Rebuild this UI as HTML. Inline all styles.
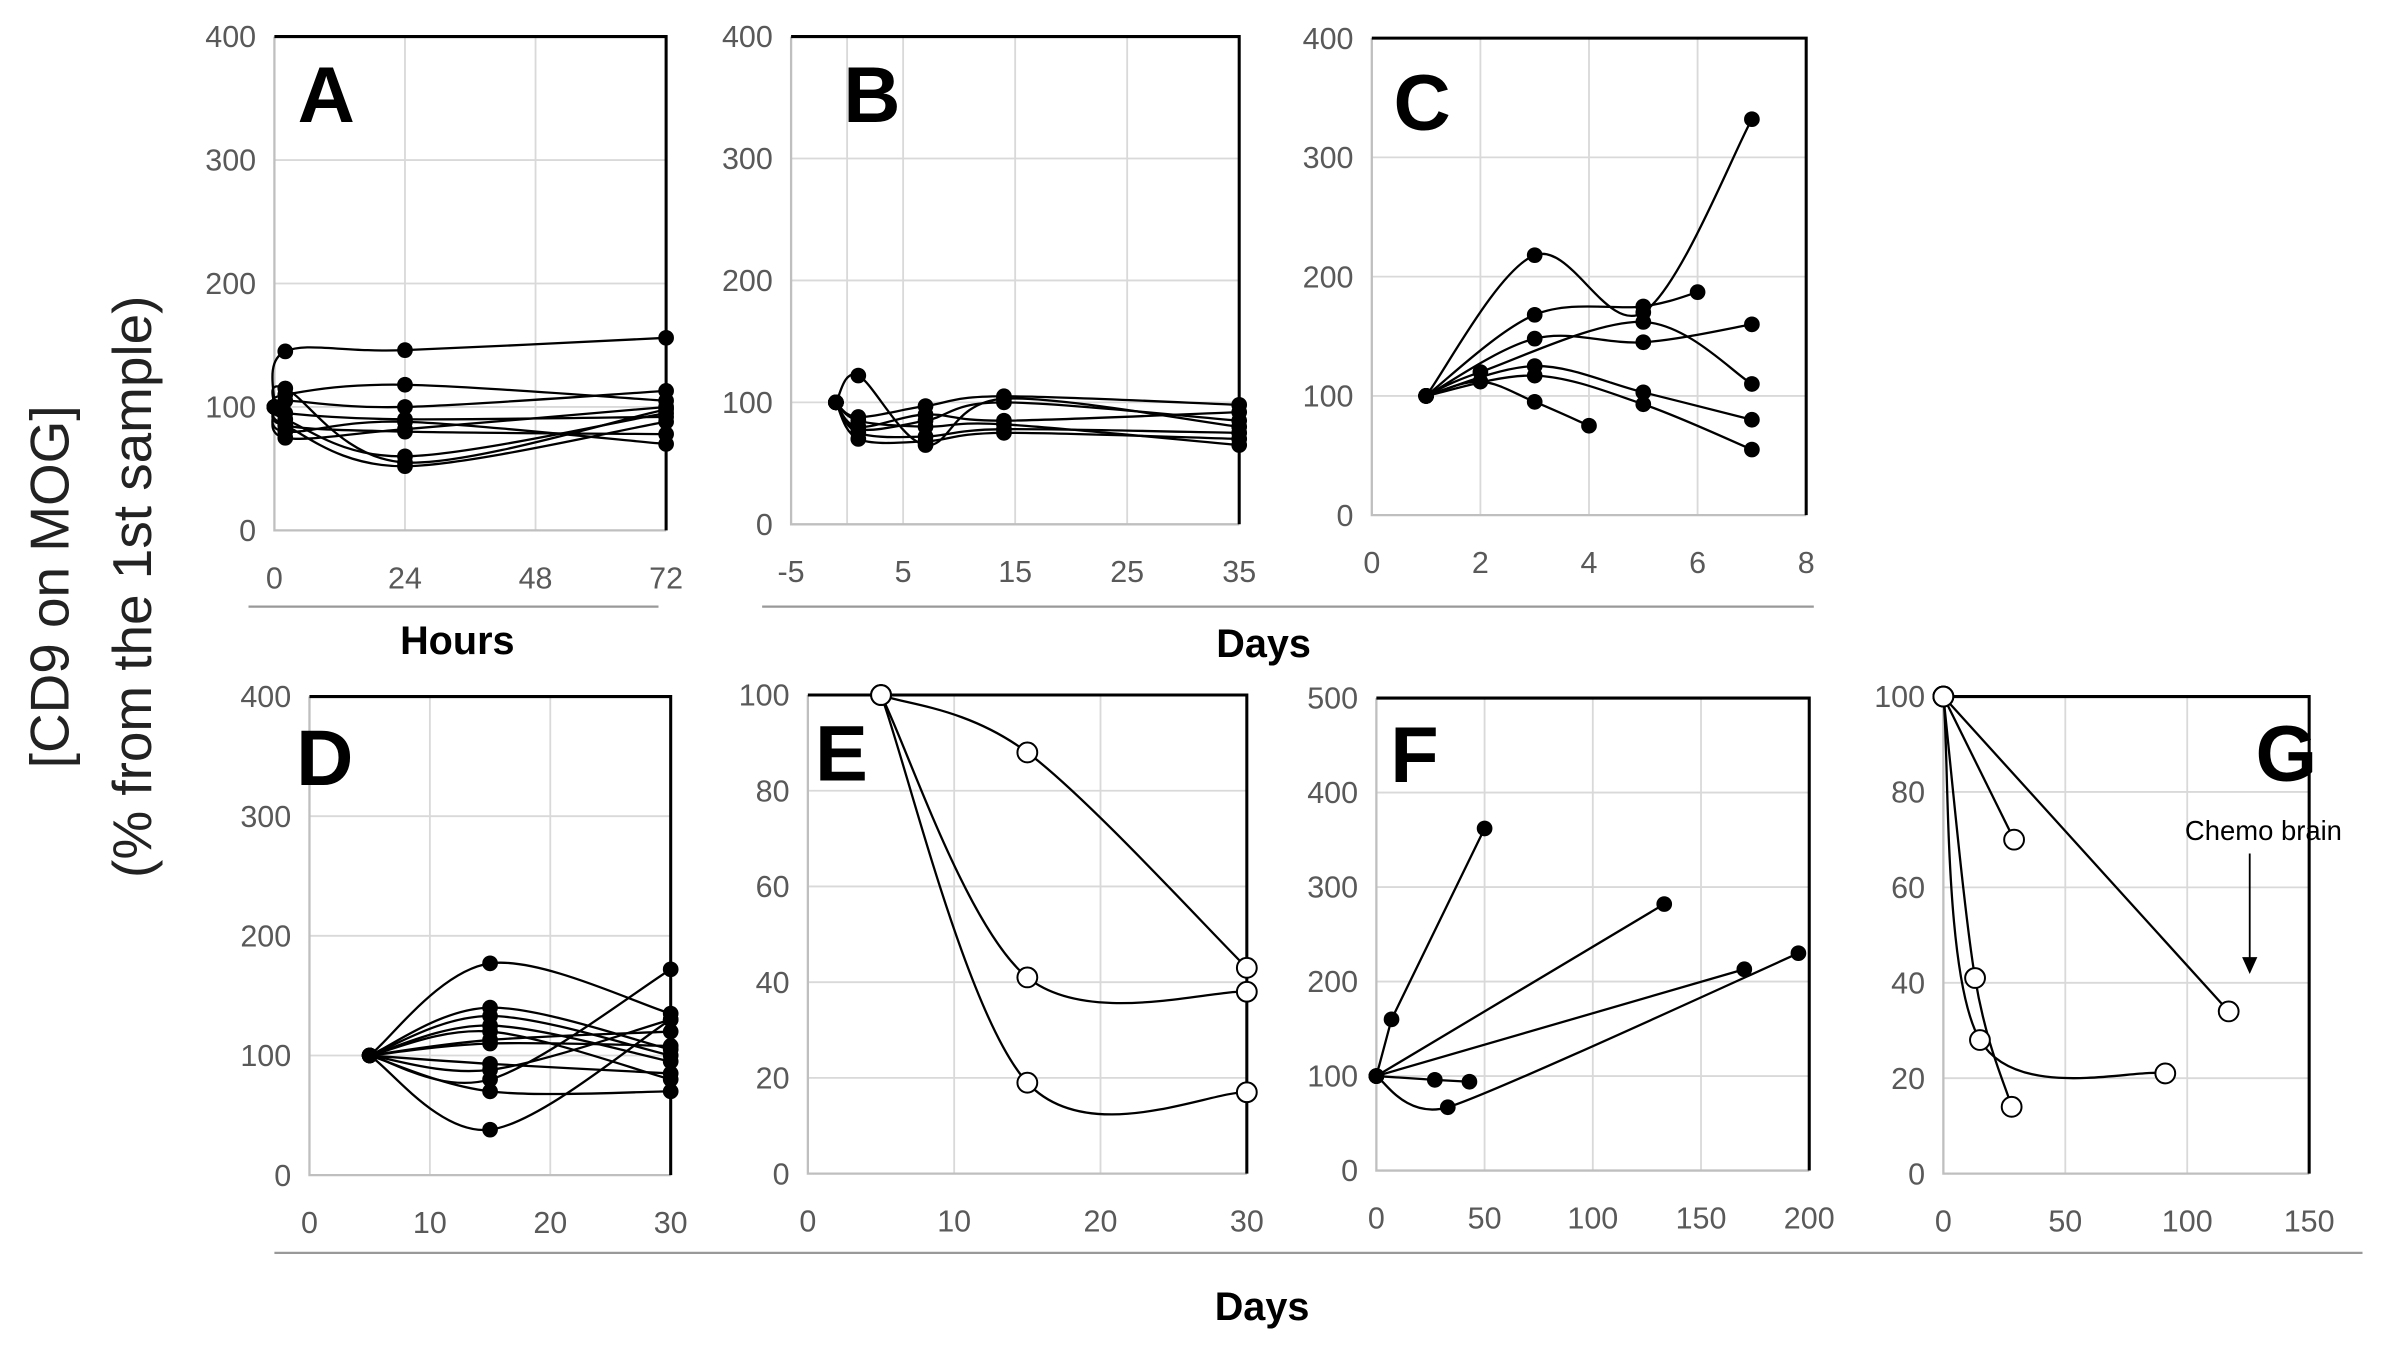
<!DOCTYPE html>
<html><head><meta charset="utf-8"><style>
html,body{margin:0;padding:0;background:#fff}
svg{display:block}
text{font-family:"Liberation Sans",sans-serif}
</style></head><body>
<svg id="fig" xmlns="http://www.w3.org/2000/svg" width="2390" height="1353" viewBox="0 0 1568 887.7">
<rect width="1568" height="887.7" fill="#fff"/>
<g id="root"></g>
<text transform="translate(45,385) rotate(-90)" text-anchor="middle" font-size="36" fill="#222">[CD9 on MOG]</text>
<text transform="translate(99,385) rotate(-90)" text-anchor="middle" font-size="36" fill="#222">(% from the 1st sample)</text>
<line x1="163" y1="398" x2="432" y2="398" stroke="#999" stroke-width="1.5"/>
<text x="300" y="429" text-anchor="middle" font-size="26" font-weight="bold">Hours</text>
<line x1="500" y1="398" x2="1190" y2="398" stroke="#999" stroke-width="1.5"/>
<text x="829" y="431" text-anchor="middle" font-size="26" font-weight="bold">Days</text>
<line x1="180" y1="822" x2="1550" y2="822" stroke="#999" stroke-width="1.5"/>
<text x="828" y="866" text-anchor="middle" font-size="26" font-weight="bold">Days</text>
<text x="1485" y="551" text-anchor="middle" font-size="18">Chemo brain</text>
<line x1="1476" y1="560" x2="1476" y2="630" stroke="#000" stroke-width="1.2"/>
<polygon points="1471,628 1481,628 1476,639" fill="#000"/>
</svg>
<script>
// ---- data ----
const aX = [0, 2, 24, 72];
const aSeries = [[100,145,146,156],[100,110,118,105],[100,105,100,113],[100,90,60,95],[100,85,52,88],[100,80,88,70],[100,75,82,100],[100,95,90,92],[100,115,55,98],[100,85,80,78]];
const bX = [-1, 1, 7, 14, 35];
const bSeries = [[100,122,65,103,80],[100,88,97,105,98],[100,80,90,85,92],[100,75,72,78,75],[100,70,68,75,70],[100,85,80,82,65],[100,78,85,100,85]];
const cX = [[1,3,5,7],[1,3,5,6],[1,3,5,7],[1,2,5,7],[1,3,5,7],[1,3,5,7],[1,2,3,4]];
const cSeries = [[100,218,170,332],[100,168,175,187],[100,148,145,160],[100,120,162,110],[100,125,103,80],[100,117,93,55],[100,112,95,75]];
const dX = [5, 15, 30];
const dSeries = [[100,177,135],[100,140,105],[100,133,100],[100,125,95],[100,120,80],[100,113,120],[100,93,85],[100,88,130],[100,80,172],[100,70,70],[100,38,130],[100,110,108]];
const eX = [5, 15, 30];
const eSeries = [[100,88,43],[100,41,38],[100,19,17]];
const fX = [[0,7,50],[0,133],[0,170],[0,33,195],[0,27,43]];
const fSeries = [[100,160,362],[100,282],[100,213],[100,67,230],[100,96,94]];
const gX = [[0,29],[0,117],[0,13,28],[0,15,91]];
const gSeries = [[100,70],[100,34],[100,41,14],[100,28,21]];
const aTicksX = ["0","24","48","72"], bTicksX = ["-5","5","15","25","35"], cTicksX = ["0","2","4","6","8"];
const dTicksX = ["0","10","20","30"], eTicksX = ["0","10","20","30"], fTicksX = ["0","50","100","150","200"], gTicksX = ["0","50","100","150"];
const ticks400 = ["0","100","200","300","400"], ticks100 = ["0","20","40","60","80","100"], ticks500 = ["0","100","200","300","400","500"];

const NS = "http://www.w3.org/2000/svg";
const root = document.getElementById('root');
function mk(tag, attrs, parent){ const e=document.createElementNS(NS,tag); for(const k in attrs) e.setAttribute(k,attrs[k]); (parent||root).appendChild(e); return e; }

function smoothPath(pts, t){
  if(pts.length<3){ return 'M'+pts.map(p=>p[0]+','+p[1]).join(' L'); }
  let d='M'+pts[0][0]+','+pts[0][1];
  for(let i=0;i<pts.length-1;i++){
    const p0=pts[i-1]||pts[i], p1=pts[i], p2=pts[i+1], p3=pts[i+2]||p2;
    const c1=[p1[0]+(p2[0]-p0[0])*t, p1[1]+(p2[1]-p0[1])*t];
    const c2=[p2[0]-(p3[0]-p1[0])*t, p2[1]-(p3[1]-p1[1])*t];
    d+=' C'+c1.join(',')+' '+c2.join(',')+' '+p2.join(',');
  }
  return d;
}

function panel(o){
  const g = mk('g',{});
  
  
  const sx = v => o.x0 + (v-o.xmin)/(o.xmax-o.xmin)*(o.x1-o.x0);
  const sy = v => o.y0 - (v-o.ymin)/(o.ymax-o.ymin)*(o.y0-o.y1);
  o.yt.forEach((t,i)=>{
    const v = o.ymin + i*(o.ymax-o.ymin)/(o.yt.length-1);
    const y = sy(v);
    if(i>0 && i<o.yt.length-1) { const l=mk('line',{x1:o.x0,x2:o.x1,y1:y,y2:y,stroke:'#d9d9d9','stroke-width':1.2},g);   }
    const tx = mk('text',{x:o.x0-12,y:y+7,'text-anchor':'end','font-size':20,fill:'#595959'},g);
    
    
    tx.textContent=t;
  });
  o.xt.forEach((t,i)=>{
    const v = o.xmin + i*(o.xmax-o.xmin)/(o.xt.length-1);
    const x = sx(v);
    if(i>0 && i<o.xt.length-1){ const l=mk('line',{x1:x,x2:x,y1:o.y0,y2:o.y1,stroke:'#d9d9d9','stroke-width':1.2},g);   }
    const tx = mk('text',{x:x,y:o.y0+38,'text-anchor':'middle','font-size':20,fill:'#595959'},g);
    
    
    tx.textContent=t;
  });
  if(o.zeroLine){ const x=sx(0); const l=mk('line',{x1:x,x2:x,y1:o.y0,y2:o.y1,stroke:'#d9d9d9','stroke-width':1.2},g);   }
  const ax = mk('path',{d:`M${o.x0},${o.y1} L${o.x0},${o.y0} L${o.x1},${o.y0}`,fill:'none',stroke:'#bfbfbf','stroke-width':1.5},g);
   
  const bd = mk('path',{d:`M${o.x0},${o.y1} L${o.x1},${o.y1} L${o.x1},${o.y0}`,fill:'none',stroke:'#000','stroke-width':2},g);
   
  const lt = mk('text',{x:o.lx,y:o.ly,'font-size':52,'font-weight':'bold','text-anchor':'middle'},g);
  
  
  lt.textContent=o.letter;
  o.series.forEach((s,si)=>{
    const xs = Array.isArray(o.xs[0]) ? o.xs[si] : o.xs;
    const pts = s.map((v,i)=>[sx(xs[i]), sy(v)]);
    const smooth = o.smooth===true || (Array.isArray(o.smooth) && o.smooth[si]);
    const p = mk('path',{d: smooth?smoothPath(pts, o.tension||1/6):'M'+pts.map(q=>q.join(',')).join(' L'),fill:'none',stroke:'#000','stroke-width':1.5},g);
    
    
    pts.forEach(q=>{
      const c = mk('circle',{cx:q[0],cy:q[1],r:o.open?6.5:4.5,fill:o.open?'#fff':'#000',stroke:'#000','stroke-width':1.3},g);
      
      
    });
  });
}

panel({letter:'A',lx:214,ly:80,x0:180,x1:437,y0:348,y1:24,xmin:0,xmax:72,ymin:0,ymax:400,xt:aTicksX,yt:ticks400,xs:aX,series:aSeries,smooth:true});
panel({letter:'B',lx:572,ly:80,x0:519,x1:813,y0:344,y1:24,xmin:-5,xmax:35,ymin:0,ymax:400,xt:bTicksX,yt:ticks400,xs:bX,series:bSeries,smooth:true,zeroLine:true});
panel({letter:'C',lx:933,ly:85,x0:900,x1:1185,y0:338,y1:25,xmin:0,xmax:8,ymin:0,ymax:400,xt:cTicksX,yt:ticks400,xs:cX,series:cSeries,smooth:true});
panel({letter:'D',lx:213,ly:515,x0:203,x1:440,y0:771,y1:457,xmin:0,xmax:30,ymin:0,ymax:400,xt:dTicksX,yt:ticks400,xs:dX,series:dSeries,smooth:true});
panel({letter:'E',lx:552,ly:512,x0:530,x1:818,y0:770,y1:456,xmin:0,xmax:30,ymin:0,ymax:100,xt:eTicksX,yt:ticks100,xs:eX,series:eSeries,smooth:true,open:true});
panel({letter:'F',lx:928,ly:513,x0:903,x1:1187,y0:768,y1:458,xmin:0,xmax:200,ymin:0,ymax:500,xt:fTicksX,yt:ticks500,xs:fX,series:fSeries,smooth:[false,false,false,true,false],tension:0.1});
panel({letter:'G',lx:1500,ly:512,x0:1275,x1:1515,y0:770,y1:457,xmin:0,xmax:150,ymin:0,ymax:100,xt:gTicksX,yt:ticks100,xs:gX,series:gSeries,smooth:[false,false,true,true],open:true});
</script>
</body></html>
